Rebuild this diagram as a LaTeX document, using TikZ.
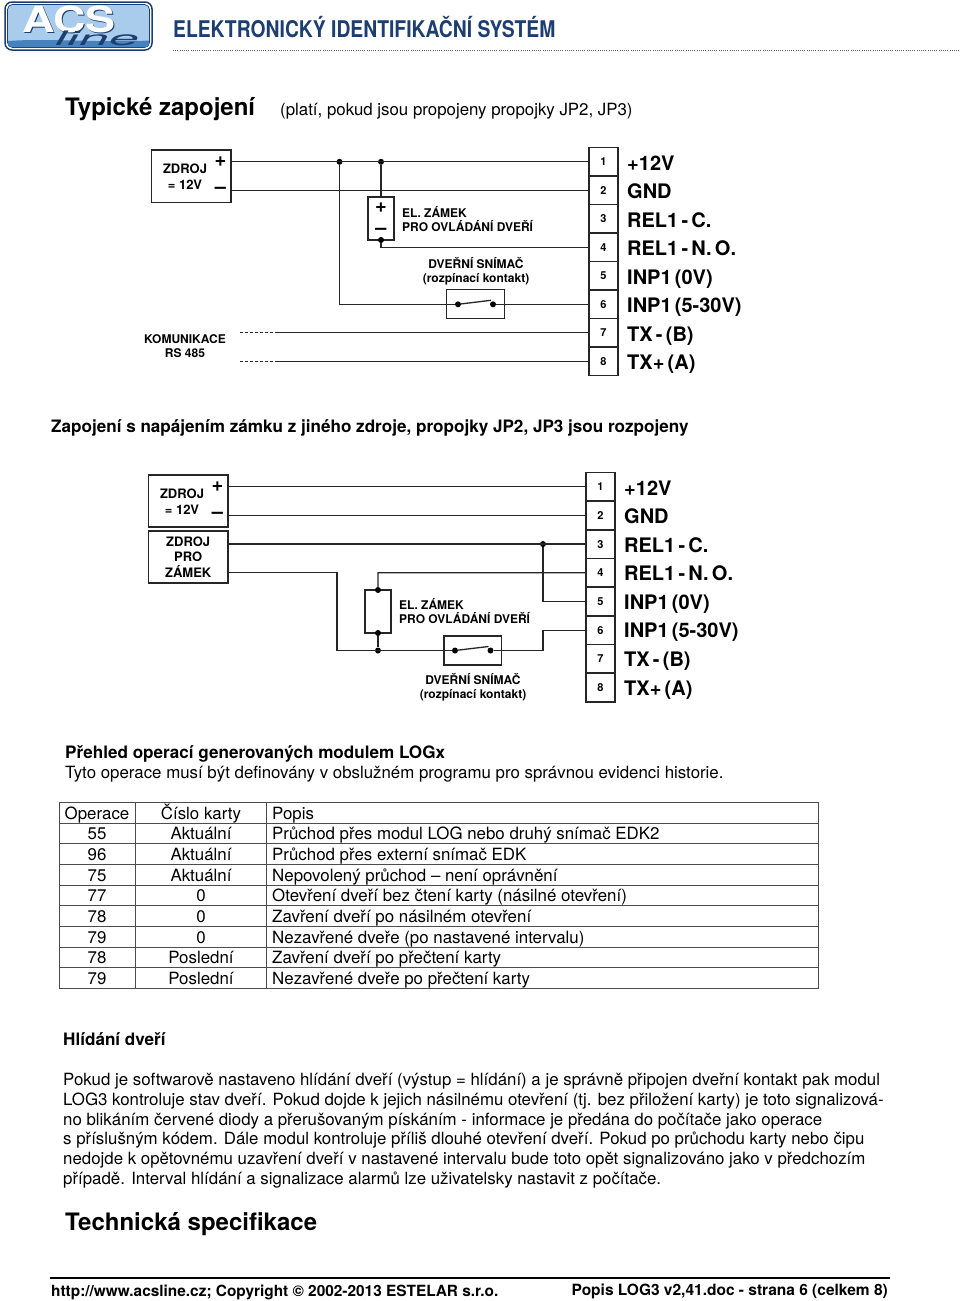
\documentclass[tikz,border=0pt]{standalone}
\usepackage{fontspec}
\setmainfont{TeX Gyre Heros}
\newfontfamily\pinfamily[WordSpace=0.58]{TeX Gyre Heros}
\usepackage{xcolor}
\usetikzlibrary{positioning,calc}
\definecolor{acsnavy}{RGB}{28,62,112}
\definecolor{acsblue}{RGB}{140,184,228}
\definecolor{acspale}{RGB}{170,204,236}
\definecolor{acsdeep}{RGB}{70,130,190}
\tikzset{
	wire/.style={draw=black!85, line width=1.3pt},
	boxed/.style={draw=black!85, line width=1.6pt, fill=white, inner sep=0pt, outer sep=0pt},
	term/.style={boxed, minimum width=29pt, minimum height=28.5pt, font=\fontsize{11}{12}\selectfont\bfseries},
	pin/.style={anchor=base west, inner sep=0pt, font=\pinfamily\fontsize{20}{22}\selectfont\bfseries},
	tag/.style={inner sep=0pt, align=center, font=\fontsize{12}{14.5}\selectfont\bfseries},
	dot/.style={circle, fill=black, inner sep=0pt, minimum size=6pt},
	sign/.style={inner sep=0pt, font=\fontsize{20}{20}\selectfont\bfseries},
	cell/.style={inner sep=0pt, font=\fontsize{16.87}{20}\selectfont},
	bodyline/.style={anchor=base west, inner sep=0pt, font=\fontsize{16.85}{20}\selectfont},
	boldline/.style={anchor=base west, inner sep=0pt, font=\fontsize{17.1}{20}\selectfont\bfseries},
	rule/.style={draw=black!70, line width=1pt},
}

\begin{document}
\begin{tikzpicture}[x=1pt, y=-1pt]
	\useasboundingbox (0,0) rectangle (960,1301);

	% header
	\node[draw=acsnavy, line width=1.5pt, rounded corners=7pt, minimum width=147pt, minimum height=48pt, fill=white, inner sep=0pt] (logo) at (78.5,26) {};
	\node[draw=acsnavy, line width=.7pt, rounded corners=5pt, minimum width=142pt, minimum height=43pt, fill=acspale, inner sep=0pt] (logoin) at (78.5,26) {};
	\fill[acsdeep] (8,41) .. controls (50,38) and (100,43) .. (149,40.5) -- (149,43) .. controls (149,46) and (147,47) .. (145,47) -- (12,47) .. controls (10,47) and (8,46) .. (8,43) -- cycle;
	\node[inner sep=0pt, text=acsnavy, font=\fontsize{36}{36}\selectfont\bfseries, xscale=1.25, transform shape] (acsback) at (70.2,20.2) {ACS};
	\node[inner sep=0pt, text=white, font=\fontsize{36}{36}\selectfont\bfseries, xscale=1.25, transform shape] (acs) at (69,19) {ACS};
	\node[inner sep=0pt, text=acsnavy, font=\fontsize{20}{20}\selectfont\itshape, xscale=2.7, transform shape] (line) at (97,38) {line};
	\node[anchor=west, inner sep=0pt, text=acsnavy, font=\fontsize{23}{25}\selectfont\bfseries, xscale=.84, transform shape] (title) at (173,27.5) {ELEKTRONICKÝ IDENTIFIKAČNÍ SYSTÉM};
	\draw[black!60, line width=.8pt, dash pattern=on 1pt off 1.2pt] (173,50.5) -- (960,50.5);

	% typical wiring
	\node[anchor=base west, inner sep=0pt, font=\fontsize{24}{26}\selectfont\bfseries] (headA) at (65,115) {Typické zapojení};
	\node[bodyline] (noteA) at (280,115) {(platí, pokud jsou propojeny propojky JP2, JP3)};

	\node[boxed, minimum width=79.5pt, minimum height=52.5pt] (srcA) at (191.2,176.2) {};
	\node[tag, font=\fontsize{13}{16}\selectfont\bfseries] (srcAtext) at (185,177) {ZDROJ\\= 12V};
	\node[sign] (srcAplus) at (220.5,162) {+};
	\node[sign] (srcAminus) at (220.5,190.5) {–};

	\node[term] (a1) at (603.5,161.8) {1};
	\node[term] (a2) [below=0pt of a1] {2};
	\node[term] (a3) [below=0pt of a2] {3};
	\node[term] (a4) [below=0pt of a3] {4};
	\node[term] (a5) [below=0pt of a4] {5};
	\node[term] (a6) [below=0pt of a5] {6};
	\node[term] (a7) [below=0pt of a6] {7};
	\node[term] (a8) [below=0pt of a7] {8};
	\node[pin] (a1t) at (627,170) {+12V};
	\node[pin] (a2t) at (627,198.5) {GND};
	\node[pin] (a3t) at (627,227) {REL1 - C.};
	\node[pin] (a4t) at (627,255.5) {REL1 - N. O.};
	\node[pin] (a5t) at (627,284) {INP1 (0V)};
	\node[pin] (a6t) at (627,312.5) {INP1 (5-30V)};
	\node[pin] (a7t) at (627,341) {TX - (B)};
	\node[pin] (a8t) at (627,369.5) {TX+ (A)};

	\node[boxed, minimum width=26.5pt, minimum height=43pt] (lockA) at (381,218.5) {};
	\node[sign] (lockAplus) at (381,208) {+};
	\node[sign] (lockAminus) at (381,231) {–};
	\node[tag, align=left, anchor=west] (lockAtext) at (402,219) {EL. ZÁMEK\\PRO OVLÁDÁNÍ DVEŘÍ};
	\node[tag] (senseAtext) at (476,271.5) {DVEŘNÍ SNÍMAČ\\(rozpínací kontakt)};
	\node[boxed, line width=1.2pt, minimum width=57.5pt, minimum height=29pt, fill=none] (swA) at (475.5,304.3) {};
	\node[dot] (swAl) at (458,304.3) {};
	\node[dot] (swAr) at (493,304.3) {};
	\node[dot] (jA1) at (339.5,161.8) {};
	\node[dot] (jA2) at (381,161.8) {};
	\node[dot] (jA3) at (381,240) {};
	\coordinate (jA4) at (339.5,304.3);
	\coordinate (jA5) at (381,247.3);

	\draw[wire] (srcA.east |- a1) -- (a1.west);
	\draw[wire] (srcA.east |- a2) -- (a2.west);
	\draw[wire] (jA2) -- (lockA.north);
	\draw[wire] (jA1) -- (jA4) -- (swAl);
	\draw[wire] (jA3) -- (jA5) -- (a4.west);
	\draw[wire] (swAl) -- (491,300.3);
	\draw[wire] (swAr) -- (a6.west);

	\node[tag] (rsA) at (185,346) {KOMUNIKACE\\RS 485};
	\coordinate (rsA1) at (278,332.8);
	\coordinate (rsA2) at (278,361.3);
	\coordinate (rsA1e) at (240,332.8);
	\coordinate (rsA2e) at (240,361.3);
	\draw[wire] (rsA1) -- (a7.west);
	\draw[wire] (rsA2) -- (a8.west);
	\draw[wire, dash pattern=on 2.5pt off 2.5pt] (rsA1e) -- (rsA1);
	\draw[wire, dash pattern=on 2.5pt off 2.5pt] (rsA2e) -- (rsA2);

	% separate supply for the lock
	\node[boldline] (headB) at (51,432) {Zapojení s napájením zámku z jiného zdroje, propojky JP2, JP3 jsou rozpojeny};

	\node[boxed, minimum width=79.5pt, minimum height=52pt] (srcB) at (188.2,501) {};
	\node[tag, font=\fontsize{13}{16}\selectfont\bfseries] (srcBtext) at (182,501.5) {ZDROJ\\= 12V};
	\node[sign] (srcBplus) at (217.5,487) {+};
	\node[sign] (srcBminus) at (217.5,515.5) {–};
	\node[boxed, minimum width=79.5pt, minimum height=52pt, align=center, font=\fontsize{13}{15.8}\selectfont\bfseries] (srcC) at (188.2,557) {ZDROJ\\PRO\\ZÁMEK};

	\node[term, minimum height=28.7pt] (b1) at (600.5,486.7) {1};
	\node[term, minimum height=28.7pt] (b2) [below=0pt of b1] {2};
	\node[term, minimum height=28.7pt] (b3) [below=0pt of b2] {3};
	\node[term, minimum height=28.7pt] (b4) [below=0pt of b3] {4};
	\node[term, minimum height=28.7pt] (b5) [below=0pt of b4] {5};
	\node[term, minimum height=28.7pt] (b6) [below=0pt of b5] {6};
	\node[term, minimum height=28.7pt] (b7) [below=0pt of b6] {7};
	\node[term, minimum height=28.7pt] (b8) [below=0pt of b7] {8};
	\node[pin] (b1t) at (624,495) {+12V};
	\node[pin] (b2t) at (624,523.5) {GND};
	\node[pin] (b3t) at (624,552) {REL1 - C.};
	\node[pin] (b4t) at (624,580.7) {REL1 - N. O.};
	\node[pin] (b5t) at (624,609.2) {INP1 (0V)};
	\node[pin] (b6t) at (624,637.9) {INP1 (5-30V)};
	\node[pin] (b7t) at (624,666.4) {TX - (B)};
	\node[pin] (b8t) at (624,695) {TX+ (A)};

	\node[boxed, minimum width=26.5pt, minimum height=43pt] (lockB) at (378,611.5) {};
	\node[tag, align=left, anchor=west] (lockBtext) at (399,611) {EL. ZÁMEK\\PRO OVLÁDÁNÍ DVEŘÍ};
	\node[tag] (senseBtext) at (473,687.5) {DVEŘNÍ SNÍMAČ\\(rozpínací kontakt)};
	\node[boxed, line width=1.2pt, minimum width=57.5pt, minimum height=29pt, fill=none] (swB) at (472.7,650.5) {};
	\node[dot] (swBl) at (455,650.5) {};
	\node[dot] (swBr) at (490.5,650.5) {};
	\node[dot] (jB1) at (543,544.1) {};
	\node[dot] (jB2) at (378,590) {};
	\node[dot] (jB3) at (378,633) {};
	\node[dot] (jB4) at (378,650.5) {};
	\coordinate (jB5) at (337,572.8);
	\coordinate (jB6) at (337,650.5);
	\coordinate (jB7) at (378,572.8);
	\coordinate (jB8) at (543,650.5);

	\draw[wire] (srcB.east |- b1) -- (b1.west);
	\draw[wire] (srcB.east |- b2) -- (b2.west);
	\draw[wire] (srcC.east |- b3) -- (b3.west);
	\draw[wire] (srcC.east |- jB5) -- (jB5) -- (jB6) -- (swBl);
	\draw[wire] (swBl) -- (488.5,646.5);
	\draw[wire] (jB2) -- (jB7) -- (b4.west);
	\draw[wire] (jB3) -- (jB4);
	\draw[wire] (swBr) -- (jB8) -- (jB8 |- b6) -- (b6.west);
	\draw[wire] (jB1) -- (jB1 |- b5) -- (b5.west);

	% table of operations
	\node[boldline] (headC) at (65,758) {Přehled operací generovaných modulem LOGx};
	\node[bodyline] (noteC) at (65,778) {Tyto operace musí být definovány v obslužném programu pro správnou evidenci historie.};

	\draw[rule] (59,802.3) rectangle (818,988.3);
	\draw[rule] (135.3,802.3) -- (135.3,988.3);
	\draw[rule] (266,802.3) -- (266,988.3);
	\draw[rule] (59,823.1) -- (818,823.1);
	\draw[rule] (59,843.7) -- (818,843.7);
	\draw[rule] (59,864.4) -- (818,864.4);
	\draw[rule] (59,885.1) -- (818,885.1);
	\draw[rule] (59,905.7) -- (818,905.7);
	\draw[rule] (59,926.4) -- (818,926.4);
	\draw[rule] (59,947) -- (818,947);
	\draw[rule] (59,967.7) -- (818,967.7);

	\node[cell, anchor=base] (op0) at (97,819) {Operace};
	\node[cell, anchor=base] (op1) at (97,839.5) {55};
	\node[cell, anchor=base] (op2) at (97,860) {96};
	\node[cell, anchor=base] (op3) at (97,881) {75};
	\node[cell, anchor=base] (op4) at (97,901.5) {77};
	\node[cell, anchor=base] (op5) at (97,922) {78};
	\node[cell, anchor=base] (op6) at (97,943) {79};
	\node[cell, anchor=base] (op7) at (97,963.5) {78};
	\node[cell, anchor=base] (op8) at (97,984) {79};

	\node[cell, anchor=base] (card0) at (201,819) {Číslo karty};
	\node[cell, anchor=base] (card1) at (201,839.5) {Aktuální};
	\node[cell, anchor=base] (card2) at (201,860) {Aktuální};
	\node[cell, anchor=base] (card3) at (201,881) {Aktuální};
	\node[cell, anchor=base] (card4) at (201,901.5) {0};
	\node[cell, anchor=base] (card5) at (201,922) {0};
	\node[cell, anchor=base] (card6) at (201,943) {0};
	\node[cell, anchor=base] (card7) at (201,963.5) {Poslední};
	\node[cell, anchor=base] (card8) at (201,984) {Poslední};

	\node[cell, anchor=base west] (txt0) at (272,819) {Popis};
	\node[cell, anchor=base west] (txt1) at (272,839.5) {Průchod přes modul LOG nebo druhý snímač EDK2};
	\node[cell, anchor=base west] (txt2) at (272,860) {Průchod přes externí snímač EDK};
	\node[cell, anchor=base west] (txt3) at (272,881) {Nepovolený průchod – není oprávnění};
	\node[cell, anchor=base west] (txt4) at (272,901.5) {Otevření dveří bez čtení karty (násilné otevření)};
	\node[cell, anchor=base west] (txt5) at (272,922) {Zavření dveří po násilném otevření};
	\node[cell, anchor=base west] (txt6) at (272,943) {Nezavřené dveře (po nastavené intervalu)};
	\node[cell, anchor=base west] (txt7) at (272,963.5) {Zavření dveří po přečtení karty};
	\node[cell, anchor=base west] (txt8) at (272,984) {Nezavřené dveře po přečtení karty};

	% door monitoring
	\node[boldline] (headD) at (63,1045) {Hlídání dveří};
	\node[bodyline] (par1) at (63,1085) {Pokud je softwarově nastaveno hlídání dveří (výstup = hlídání) a je správně připojen dveřní kontakt pak modul};
	\node[bodyline] (par2) at (63,1105) {LOG3 kontroluje stav dveří. Pokud dojde k jejich násilnému otevření (tj. bez přiložení karty) je toto signalizová-};
	\node[bodyline] (par3) at (63,1125) {no blikáním červené diody a přerušovaným pískáním - informace je předána do počítače jako operace};
	\node[bodyline] (par4) at (63,1144.5) {s příslušným kódem. Dále modul kontroluje příliš dlouhé otevření dveří. Pokud po průchodu karty nebo čipu};
	\node[bodyline] (par5) at (63,1164.5) {nedojde k opětovnému uzavření dveří v nastavené intervalu bude toto opět signalizováno jako v předchozím};
	\node[bodyline] (par6) at (63,1184.5) {případě. Interval hlídání a signalizace alarmů lze uživatelsky nastavit z počítače.};

	\node[anchor=base west, inner sep=0pt, font=\fontsize{24}{26}\selectfont\bfseries] (headE) at (65,1230) {Technická specifikace};

	% footer
	\draw[black, line width=1.2pt] (50,1278) -- (890,1278);
	\node[anchor=base west, inner sep=0pt, font=\fontsize{15.4}{18}\selectfont\bfseries] (footL) at (51,1296) {http://www.acsline.cz; Copyright © 2002-2013 ESTELAR s.r.o.};
	\node[anchor=base east, inner sep=0pt, font=\fontsize{15.5}{18}\selectfont\bfseries] (footR) at (888,1295) {Popis LOG3 v2,41.doc - strana 6 (celkem 8)};
\end{tikzpicture}
\end{document}
